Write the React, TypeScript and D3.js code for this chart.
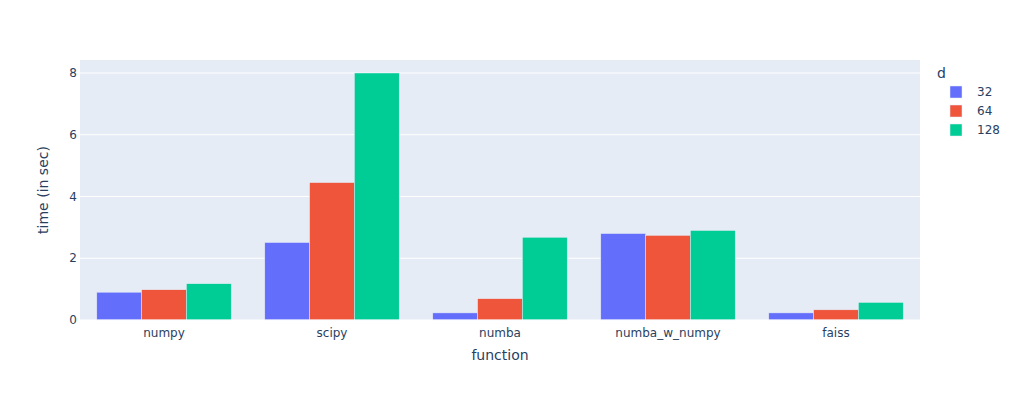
import { useEffect, useRef } from 'react';
import * as d3 from 'd3';

const categories = ['numpy', 'scipy', 'numba', 'numba_w_numpy', 'faiss'];
const seriesNames = ['32', '64', '128'];
const colors = ['#636efa', '#EF553B', '#00cc96'];
const d32 = [0.9, 2.51, 0.23, 2.8, 0.23];
const d64 = [0.98, 4.45, 0.69, 2.74, 0.33];
const d128 = [1.175, 8.0, 2.68, 2.9, 0.57];
const yTicks = [0, 2, 4, 6, 8];

const App = () => {
  const ref = useRef<SVGSVGElement>(null);

  useEffect(() => {
    const svg = d3.select(ref.current);
    svg.selectAll('*').remove();

    const W = 1017, H = 399;
    const margin = { top: 60, right: 97, bottom: 79, left: 80 };
    const width = W - margin.left - margin.right;
    const height = H - margin.top - margin.bottom;
    const font = 'Verdana, "DejaVu Sans", sans-serif';
    const textColor = '#2a3f5f';

    svg.append('rect').attr('width', W).attr('height', H).attr('fill', '#fff');

    const g = svg.append('g').attr('transform', `translate(${margin.left},${margin.top})`);
    g.append('rect').attr('width', width).attr('height', height).attr('fill', '#E5ECF6');

    const x = d3.scaleBand().domain(categories).range([0, width]).paddingInner(0.2).paddingOuter(0.1);
    const x1 = d3.scaleBand().domain(seriesNames).range([0, x.bandwidth()]);
    const y = d3.scaleLinear().domain([0, 8.0 * 1.0526]).range([height, 0]);

    g.selectAll('.grid')
      .data(yTicks.slice(1))
      .enter()
      .append('line')
      .attr('x1', 0)
      .attr('x2', width)
      .attr('y1', d => y(d))
      .attr('y2', d => y(d))
      .attr('stroke', '#fff')
      .attr('stroke-width', 1);

    const series = [d32, d64, d128];
    series.forEach((vals, si) => {
      g.selectAll(`.bar${si}`)
        .data(vals)
        .enter()
        .append('rect')
        .attr('x', (d, i) => x(categories[i])! + x1(seriesNames[si])!)
        .attr('y', d => y(d))
        .attr('width', x1.bandwidth())
        .attr('height', d => y(0) - y(d))
        .attr('fill', colors[si])
        .attr('stroke', '#E5ECF6')
        .attr('stroke-width', 0.5);
    });

    g.append('line')
      .attr('x1', 0).attr('x2', width)
      .attr('y1', y(0)).attr('y2', y(0))
      .attr('stroke', '#fff').attr('stroke-width', 1);

    // y tick labels
    g.selectAll('.ytick')
      .data(yTicks)
      .enter()
      .append('text')
      .attr('x', -3)
      .attr('y', d => y(d))
      .attr('dy', '0.35em')
      .attr('text-anchor', 'end')
      .style('font-family', font)
      .style('font-size', '12px')
      .attr('fill', textColor)
      .text(d => d);

    // x tick labels
    g.selectAll('.xtick')
      .data(categories)
      .enter()
      .append('text')
      .attr('x', d => x(d)! + x.bandwidth() / 2)
      .attr('y', height + 17)
      .attr('text-anchor', 'middle')
      .style('font-family', font)
      .style('font-size', '12px')
      .attr('fill', textColor)
      .text(d => d);

    g.append('text')
      .attr('x', width / 2)
      .attr('y', height + 40)
      .attr('text-anchor', 'middle')
      .style('font-family', font)
      .style('font-size', '14px')
      .attr('fill', textColor)
      .text('function');

    g.append('text')
      .attr('transform', `translate(-32,${height / 2}) rotate(-90)`)
      .attr('text-anchor', 'middle')
      .style('font-family', font)
      .style('font-size', '14px')
      .attr('fill', textColor)
      .text('time (in sec)');

    // legend
    const lg = svg.append('g').attr('transform', 'translate(937,0)');
    lg.append('text')
      .attr('x', 0).attr('y', 78)
      .style('font-family', font)
      .style('font-size', '14px')
      .attr('fill', textColor)
      .text('d');
    seriesNames.forEach((s, i) => {
      const cy = 92 + i * 19;
      lg.append('rect')
        .attr('x', 13).attr('y', cy - 6)
        .attr('width', 12).attr('height', 12)
        .attr('fill', colors[i])
        .attr('stroke', '#E5ECF6').attr('stroke-width', 0.5);
      lg.append('text')
        .attr('x', 40).attr('y', cy)
        .attr('dy', '0.35em')
        .style('font-family', font)
        .style('font-size', '12px')
        .attr('fill', textColor)
        .text(s);
    });
  }, []);

  return (
    <div style={{ position: 'absolute', left: 0, top: 0 }}>
      <svg ref={ref} width={1017} height={399} style={{ display: 'block' }} />
    </div>
  );
};

export default App;
